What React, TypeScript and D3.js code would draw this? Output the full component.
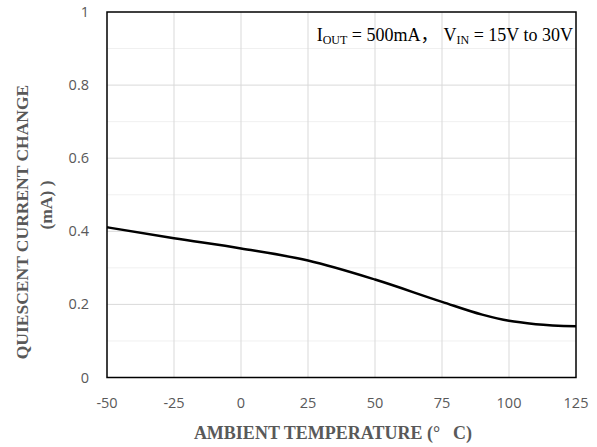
import React from "react";
import * as d3 from "d3";

const temps = [-50, -25, 0, 25, 50, 75, 90, 100, 110, 125];
const current = [0.411, 0.381, 0.353, 0.32, 0.268, 0.207, 0.172, 0.155, 0.146, 0.14];
const xTicks = [-50, -25, 0, 25, 50, 75, 100, 125];
const yMajor = [0, 0.2, 0.4, 0.6, 0.8, 1];
const yMinor = [0.1, 0.3, 0.5, 0.7, 0.9];

const W = 597, H = 447;
const L = 107, R = 576, T = 12, B = 377.5;

export default function App() {
  const x = d3.scaleLinear().domain([-50, 125]).range([L, R]);
  const y = d3.scaleLinear().domain([0, 1]).range([B, T]);
  const line = d3.line<number>()
    .x((_, i) => x(temps[i]))
    .y((d) => y(d))
    .curve(d3.curveMonotoneX);
  const tickFont = "'Open Sans', Lato, sans-serif";
  const serif = "'Liberation Serif', 'Times New Roman', serif";
  return (
    <svg width={W} height={H} style={{ position: "absolute", left: 0, top: 0 }}>
      <rect width={W} height={H} fill="#fff" />
      {yMinor.map((v) => (
        <line key={"mi" + v} x1={L} x2={R} y1={y(v)} y2={y(v)} stroke="#f0f0f0" strokeWidth={1} />
      ))}
      {yMajor.slice(1, -1).map((v) => (
        <line key={"ma" + v} x1={L} x2={R} y1={y(v)} y2={y(v)} stroke="#d9d9d9" strokeWidth={1} />
      ))}
      {xTicks.slice(1, -1).map((v) => (
        <line key={"xv" + v} x1={x(v)} x2={x(v)} y1={T} y2={B} stroke="#d9d9d9" strokeWidth={1} />
      ))}
      <rect x={L} y={T} width={R - L} height={B - T} fill="none" stroke="#000" strokeWidth={1.5} />
      <path d={line(current) || ""} fill="none" stroke="#000" strokeWidth={2.5} />
      {yMajor.map((v) => (
        <text key={"yl" + v} x={89} y={y(v)} dy="0.35em" textAnchor="end" fontFamily={tickFont} fontSize={14.5} fill="#595959">
          {d3.format("")(v)}
        </text>
      ))}
      {xTicks.map((v) => (
        <text key={"xl" + v} x={x(v)} y={403} dy="0.35em" textAnchor="middle" fontFamily={tickFont} fontSize={14.5} fill="#595959">
          {v}
        </text>
      ))}
      <text x={333} y={439} textAnchor="middle" fontFamily={serif} fontWeight="bold" fontSize={18} fill="#595959">
        <tspan>AMBIENT TEMPERATURE (°</tspan>
        <tspan dx={13}>C)</tspan>
      </text>
      <g transform="translate(22,222) rotate(-90)">
        <text x={0} y={0} dy="0.35em" textAnchor="middle" fontFamily={serif} fontWeight="bold" fontSize={17.5} fill="#595959">
          QUIESCENT CURRENT CHANGE
        </text>
      </g>
      <g transform="translate(46,205) rotate(-90)">
        <text x={0} y={0} dy="0.35em" textAnchor="middle" fontFamily={serif} fontWeight="bold" fontSize={17.5} fill="#595959">
          (mA) )
        </text>
      </g>
      <text x={573} y={41} textAnchor="end" fontFamily={serif} fontSize={18} fill="#000">
        <tspan>I</tspan>
        <tspan fontSize={12} dy={3}>OUT</tspan>
        <tspan dy={-3}> = 500mA</tspan>
        <tspan fontFamily="'Noto Sans CJK SC', sans-serif">，</tspan>
        <tspan dx={5}>V</tspan>
        <tspan fontSize={12} dy={3}>IN</tspan>
        <tspan dy={-3}> = 15V to 30V</tspan>
      </text>
    </svg>
  );
}
